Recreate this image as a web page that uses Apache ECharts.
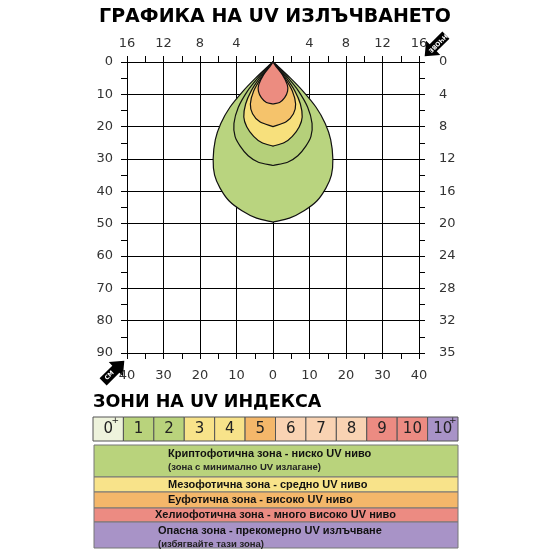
<!DOCTYPE html><html><head><meta charset="utf-8"><script src="https://cdn.jsdelivr.net/npm/echarts@6/dist/echarts.min.js"></script></head><body style="margin:0"><div id="c" style="width:550px;height:550px"></div><script>
const cmTicks=[-40,-30,-20,-10,0,10,20,30,40];
const inchTop=['16','12','8','4','','4','8','12','16'];
const depthTicks=[0,10,20,30,40,50,60,70,80,90];
const inchRight=['0','4','8','12','16','20','24','28','32','35'];
const zoneNames=['outer','inner','yellow','orange','red'];
const zoneColors=['#b9d47f','#b5d07a','#f7e07c','#f5c36b','#ec8c80'];
const outerProfile=[[0,0],[2,2],[5,4.8],[9,8.2],[14,11.8],[19,14.3],[24,15.8],[30,16.4],[35,16],[39,14.5],[43,12],[46,8.5],[48.3,4.5],[49.5,0]];
const innerProfile=[[0,0],[2,1.7],[5,4.2],[9,7],[14,9.5],[19,10.7],[23,10.4],[26,9],[29,6.8],[31,4],[32,0]];
const yellowProfile=[[0,0],[2,1.5],[5,3.7],[9,6],[13,7.5],[17,8],[20,7.2],[23,5.3],[25,3],[26,0]];
const orangeProfile=[[0,0],[2,1.3],[5,3.3],[9,5.3],[13,6.2],[16,5.6],[18.5,3.6],[20,0]];
const redProfile=[[0,0],[1.5,0.9],[4,2.6],[7,3.9],[9,4],[11,3.2],[12.5,1.8],[13,0]];
const profiles=[outerProfile,innerProfile,yellowProfile,orangeProfile,redProfile];
const uvLabels=['0','1','2','3','4','5','6','7','8','9','10','10'];
const uvPlus=[true,false,false,false,false,false,false,false,false,false,false,true];
const uvColors=['#eef3dc','#b9d37c','#b9d37c','#f8e38a','#f8e38a','#f4b76a','#f9d3b3','#f9d3b3','#f9d3b3','#ec8b82','#ec8b82','#a893c7'];
const zoneTexts=[['Криптофотична зона - ниско UV ниво','(зона с минимално UV излагане)'],['Мезофотична зона - средно UV ниво'],['Еуфотична зона - високо UV ниво'],['Хелиофотична зона - много високо UV ниво'],['Опасна зона - прекомерно UV излъчване','(избягвайте тази зона)']];
const zoneBandColors=['#b9d37c','#f8e38a','#f4b76a','#ec8b82','#a893c7'];
const zoneBandH=[32,15,16,14,26];
const zoneTextX=[168,168,168,155,158];

const gfx=[];
gfx.push({type:'text',left:'center',top:8,style:{text:'ГРАФИКА НА UV ИЗЛЪЧВАНЕТО',font:'900 19px "DejaVu Sans"',fill:'#000'}});
gfx.push({type:'text',left:93,top:393,style:{text:'ЗОНИ НА UV ИНДЕКСА',font:'900 17.5px "DejaVu Sans"',fill:'#000'}});
const cw=365/12;
uvLabels.forEach((l,i)=>{
 gfx.push({type:'rect',shape:{x:93+i*cw,y:417,width:cw,height:24},style:{fill:uvColors[i],stroke:'#555',lineWidth:1}});
 gfx.push({type:'text',x:93+i*cw+cw/2,y:429,style:{text:l,font:'15px "DejaVu Sans"',fill:'#222',align:'center',verticalAlign:'middle'}});
 if(uvPlus[i]) gfx.push({type:'text',x:93+i*cw+cw/2+(l.length>1?10:7),y:421,style:{text:'+',font:'9px "DejaVu Sans"',fill:'#222',align:'center',verticalAlign:'middle'}});
});
let yy=445;
zoneTexts.forEach((t,i)=>{
 gfx.push({type:'rect',shape:{x:94,y:yy,width:364,height:zoneBandH[i]},style:{fill:zoneBandColors[i],stroke:'#777',lineWidth:1}});
 if(t.length>1){
  gfx.push({type:'text',x:zoneTextX[i],y:yy+3,style:{text:t[0],font:'bold 11px "Liberation Sans"',fill:'#111'}});
  gfx.push({type:'text',x:zoneTextX[i],y:yy+17,style:{text:t[1],font:'bold 9.5px "Liberation Sans"',fill:'#222'}});
 } else gfx.push({type:'text',x:zoneTextX[i],y:yy+zoneBandH[i]/2,style:{text:t[0],font:'bold 11px "Liberation Sans"',fill:'#111',verticalAlign:'middle'}});
 yy+=zoneBandH[i];
});
function arrow(cx,cy,rot,label){
 gfx.push({type:'group',x:cx,y:cy,rotation:rot,children:[
  {type:'polygon',shape:{points:[[-14,-5],[4,-5],[4,-10],[16,0],[4,10],[4,5],[-14,5]]},style:{fill:'#000'}},
  {type:'text',x:-5,y:0,style:{text:label,font:'bold 6px "DejaVu Sans"',fill:'#fff',align:'center',verticalAlign:'middle'}}
 ]});
}
arrow(436,45,-Math.PI*3/4,'ИНЧОВЕ');
arrow(113,372,Math.PI/4,'СМ');

const chart=echarts.init(document.getElementById('c'));
const lab={color:'#333',fontSize:13,fontFamily:'DejaVu Sans'};
const tk={show:true,length:6,inside:false,lineStyle:{color:'#000'}};
const mt={show:true,splitNumber:2,length:6,lineStyle:{color:'#000'}};
chart.setOption({
 animation:false,
 grid:{left:127,right:131,top:62,bottom:197},
 graphic:gfx,
 xAxis:[
  {type:'value',min:-40,max:40,interval:10,position:'bottom',axisLine:{onZero:false,lineStyle:{color:'#000'}},axisTick:tk,minorTick:mt,axisLabel:Object.assign({formatter:v=>Math.abs(v),margin:16},lab),splitLine:{show:true,lineStyle:{color:'#000',width:1}}},
  {type:'value',min:-40,max:40,interval:10,position:'top',axisLine:{onZero:false,lineStyle:{color:'#000'}},axisTick:tk,minorTick:mt,axisLabel:Object.assign({formatter:v=>inchTop[cmTicks.indexOf(v)],margin:12},lab),splitLine:{show:false}}
 ],
 yAxis:[
  {type:'value',min:0,max:90,interval:10,inverse:true,position:'left',axisLine:{show:true,onZero:false,lineStyle:{color:'#000'}},axisTick:tk,minorTick:mt,axisLabel:Object.assign({margin:14},lab),splitLine:{show:true,lineStyle:{color:'#000',width:1}}},
  {type:'value',min:0,max:90,interval:10,inverse:true,position:'right',axisLine:{show:true,onZero:false,lineStyle:{color:'#000'}},axisTick:tk,minorTick:mt,axisLabel:Object.assign({margin:20,formatter:v=>inchRight[depthTicks.indexOf(v)]},lab),splitLine:{show:false}}
 ],
 series:[{type:'custom',data:zoneNames.map((n,i)=>i),clip:false,
  renderItem:(p,api)=>{
   const i=api.value(0);const pr=profiles[i];
   const pts=pr.map(q=>api.coord([q[1],q[0]])).concat(pr.slice().reverse().map(q=>api.coord([-q[1],q[0]])));
   return {type:'polygon',shape:{points:pts,smooth:0.25},style:{fill:zoneColors[i],stroke:'#111',lineWidth:1.2}};
  },encode:{x:0,y:0}}]
});
</script></body></html>
